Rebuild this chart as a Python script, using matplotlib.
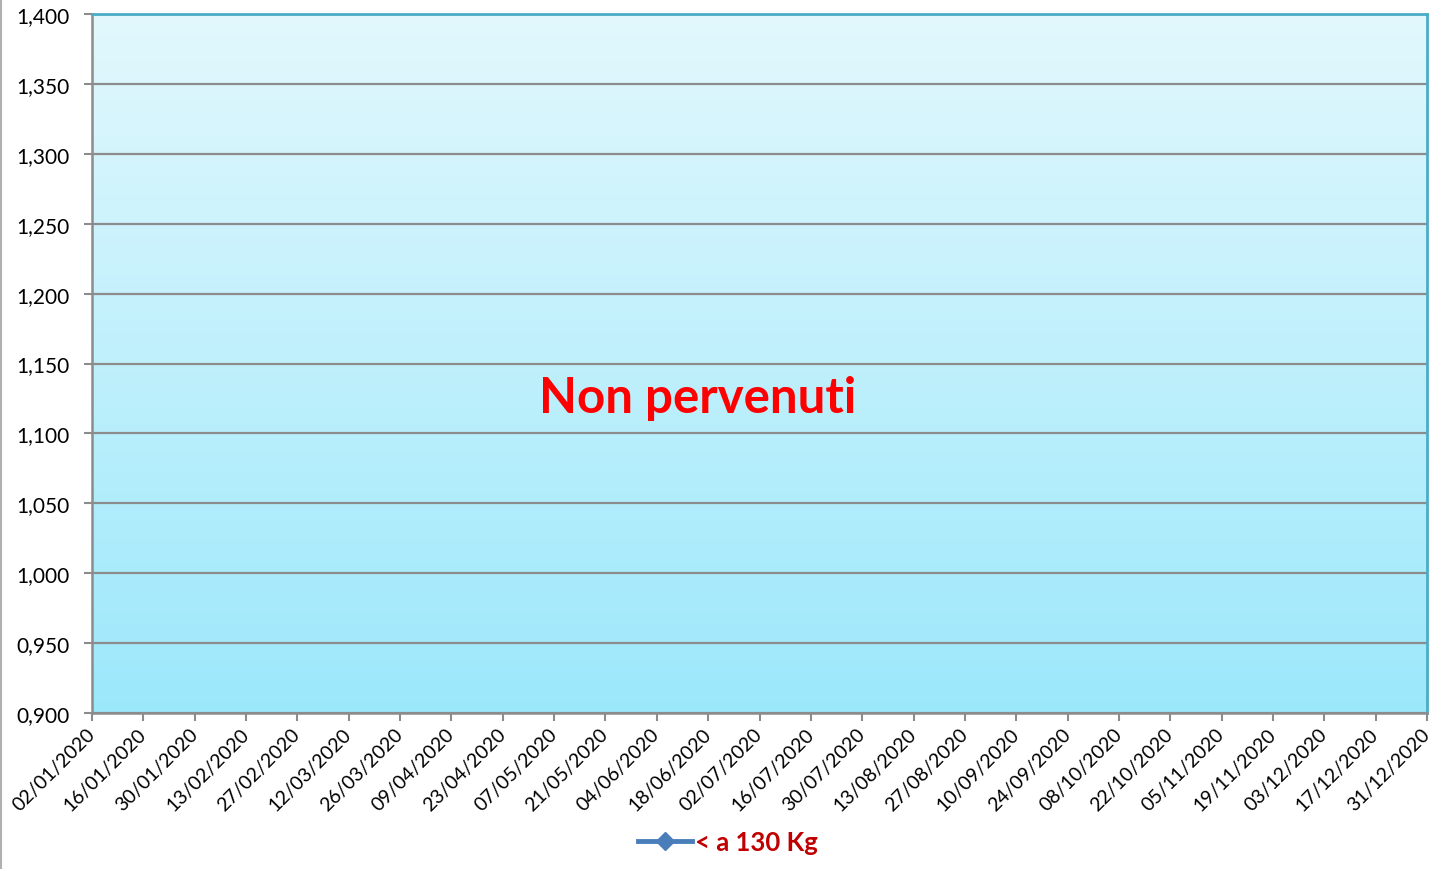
import numpy as np
import matplotlib.pyplot as plt
import matplotlib.dates as mdates
from matplotlib.lines import Line2D
from datetime import datetime

plt.rcParams['font.family'] = ['Lato', 'DejaVu Sans']

# Data: the series has no values ("Non pervenuti")
tick_labels = ['02/01/2020', '16/01/2020', '30/01/2020', '13/02/2020', '27/02/2020',
               '12/03/2020', '26/03/2020', '09/04/2020', '23/04/2020', '07/05/2020',
               '21/05/2020', '04/06/2020', '18/06/2020', '02/07/2020', '16/07/2020',
               '30/07/2020', '13/08/2020', '27/08/2020', '10/09/2020', '24/09/2020',
               '08/10/2020', '22/10/2020', '05/11/2020', '19/11/2020', '03/12/2020',
               '17/12/2020', '31/12/2020']
series_dates = []
series_values = []
series_name = '< a 130 Kg'
y_ticks = [0.90, 0.95, 1.00, 1.05, 1.10, 1.15, 1.20, 1.25, 1.30, 1.35, 1.40]

tick_dates = [datetime.strptime(s, '%d/%m/%Y') for s in tick_labels]

fig = plt.figure(figsize=(14.36, 8.70), dpi=100)
ax = fig.add_axes([92 / 1436, 1 - 714 / 870, (1427 - 92) / 1436, (714 - 15) / 870])

# gradient background
grad = np.linspace(0, 1, 256).reshape(-1, 1)
top = np.array([0xe2, 0xf8, 0xfd]) / 255
bot = np.array([0x9c, 0xe8, 0xfb]) / 255
img = top * (1 - grad[..., None]) + bot * grad[..., None]
ax.imshow(img, extent=[0, 1, 0, 1], transform=ax.transAxes, aspect='auto', zorder=0)

ax.plot(series_dates, series_values, color='#4a7ebb', lw=3.5, marker='D', ms=9,
        label=series_name, zorder=3)

ax.set_xlim(mdates.date2num(tick_dates[0]), mdates.date2num(tick_dates[-1]))
ax.set_ylim(y_ticks[0], y_ticks[-1])
ax.set_xticks(mdates.date2num(tick_dates))
ax.set_xticklabels(tick_labels, rotation=45, ha='right', va='center',
                   rotation_mode='anchor', fontsize=14)
ax.set_yticks(y_ticks)
ax.set_yticklabels([f'{v:.3f}'.replace('.', ',') for v in y_ticks], fontsize=15)
ax.set_axisbelow(True)
ax.grid(axis='y', color='#8c8c8c', lw=1.6)

ax.tick_params(axis='both', direction='out', length=6, width=1.5, color='#8c8c8c')
ax.tick_params(axis='x', pad=7)
ax.tick_params(axis='y', pad=10)
for s in ['left', 'bottom']:
    ax.spines[s].set_color('#8c8c8c')
    ax.spines[s].set_linewidth(1.8)
for s in ['top', 'right']:
    ax.spines[s].set_color('#4bacc6')
    ax.spines[s].set_linewidth(2)

ax.text(0.454, 0.452, 'Non pervenuti', transform=ax.transAxes, color='#ff0000',
        fontsize=35.5, fontweight='bold', ha='center', va='center', zorder=4)

leg = fig.legend(handles=[Line2D([], [], color='#4a7ebb', lw=3.5, marker='D', ms=9)],
                 labels=[series_name], loc='center', bbox_to_anchor=(728 / 1436, 1 - 843 / 870),
                 frameon=False, handlelength=2.1, handletextpad=0.1,
                 prop={'size': 18.5, 'weight': 'bold'})
for t in leg.get_texts():
    t.set_color('#c00000')

fig.add_artist(Line2D([0.0008, 0.0008], [0, 1], transform=fig.transFigure,
                      color='#b0b0b0', lw=1.5))

fig.savefig('out.png', dpi=100)
